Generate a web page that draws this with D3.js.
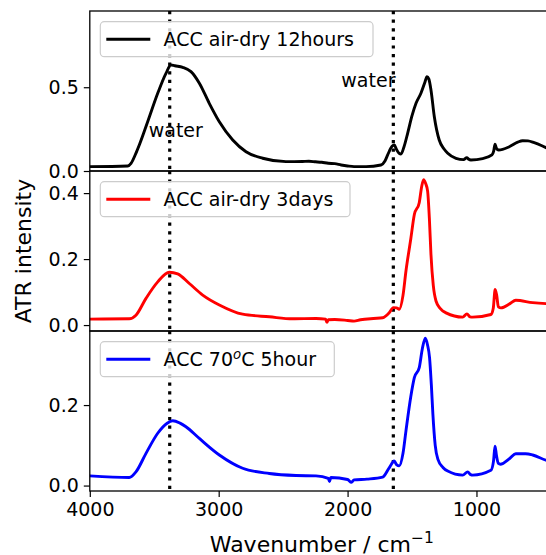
<!DOCTYPE html>
<html>
<head>
<meta charset="utf-8">
<script src="https://cdn.jsdelivr.net/npm/d3@7"></script>
<style>
  html, body { margin: 0; padding: 0; background: #fff; }
  svg { display: block; font-family: "DejaVu Sans", sans-serif; }
</style>
</head>
<body>
<svg id="chart" width="546" height="555"></svg>
<script>
// ---------- data ----------
const seriesLabels = ["ACC air-dry 12hours", "ACC air-dry 3days", "ACC 70oC 5hour"];
const seriesColors = ["#000000", "#ff0000", "#0000ff"];

const wn12h = [4000, 3706, 3680, 3640, 3616, 3551, 3473, 3409, 3370, 3340, 3279, 3215, 3150, 3073, 2995, 2891, 2788, 2659, 2478, 2350, 2300, 2250, 2200, 2150, 2100, 2050, 2000, 1950, 1857, 1741, 1710, 1689, 1655, 1638, 1620, 1600, 1586, 1560, 1534, 1500, 1469, 1431, 1400, 1384, 1370, 1353, 1327, 1289, 1250, 1223, 1159, 1100, 1075, 1060, 1043, 952, 880, 866, 856, 845, 828, 745, 680, 642, 600, 552, 461, 400];
const ab12h = [0.026, 0.030, 0.046, 0.110, 0.155, 0.294, 0.464, 0.583, 0.633, 0.628, 0.619, 0.593, 0.524, 0.404, 0.294, 0.185, 0.115, 0.076, 0.056, 0.057, 0.058, 0.055, 0.052, 0.046, 0.044, 0.036, 0.030, 0.026, 0.026, 0.036, 0.060, 0.096, 0.148, 0.155, 0.128, 0.105, 0.101, 0.150, 0.225, 0.330, 0.404, 0.464, 0.530, 0.563, 0.550, 0.484, 0.324, 0.185, 0.130, 0.106, 0.076, 0.068, 0.080, 0.070, 0.066, 0.074, 0.096, 0.120, 0.160, 0.135, 0.125, 0.145, 0.172, 0.181, 0.180, 0.169, 0.140, 0.120];

const wn3d = [4000, 3694, 3642, 3564, 3473, 3383, 3318, 3228, 3124, 2995, 2814, 2607, 2426, 2245, 2170, 2160, 2150, 2100, 2000, 1950, 1900, 1800, 1728, 1677, 1645, 1620, 1599, 1570, 1547, 1510, 1482, 1444, 1425, 1410, 1395, 1379, 1365, 1353, 1335, 1314, 1280, 1236, 1107, 1074, 1050, 1030, 888, 870, 855, 843, 830, 810, 740, 695, 564, 461, 400];
const ab3d = [0.018, 0.019, 0.030, 0.081, 0.131, 0.160, 0.155, 0.126, 0.091, 0.061, 0.033, 0.025, 0.019, 0.020, 0.018, 0.008, 0.016, 0.017, 0.014, 0.012, 0.016, 0.020, 0.022, 0.037, 0.053, 0.052, 0.048, 0.090, 0.164, 0.260, 0.335, 0.371, 0.420, 0.441, 0.430, 0.406, 0.320, 0.214, 0.120, 0.073, 0.050, 0.037, 0.024, 0.034, 0.025, 0.024, 0.032, 0.050, 0.108, 0.090, 0.055, 0.052, 0.065, 0.075, 0.068, 0.065, 0.064];

const wn70 = [4000, 3694, 3642, 3564, 3473, 3400, 3357, 3300, 3254, 3150, 2995, 2814, 2607, 2400, 2245, 2150, 2140, 2130, 2000, 1970, 1950, 1850, 1728, 1677, 1638, 1620, 1599, 1570, 1547, 1510, 1482, 1444, 1420, 1397, 1380, 1364, 1350, 1338, 1320, 1299, 1260, 1223, 1107, 1068, 1045, 1030, 888, 868, 856, 845, 830, 815, 740, 695, 620, 564, 461, 400];
const ab70 = [0.024, 0.020, 0.034, 0.080, 0.130, 0.155, 0.161, 0.155, 0.146, 0.117, 0.076, 0.043, 0.030, 0.025, 0.024, 0.018, 0.010, 0.020, 0.015, 0.008, 0.014, 0.016, 0.021, 0.044, 0.061, 0.052, 0.049, 0.080, 0.136, 0.220, 0.268, 0.293, 0.340, 0.366, 0.350, 0.318, 0.250, 0.177, 0.100, 0.065, 0.045, 0.036, 0.026, 0.034, 0.027, 0.026, 0.038, 0.060, 0.098, 0.075, 0.055, 0.053, 0.068, 0.079, 0.079, 0.076, 0.063, 0.058];

const xTicks = [4000, 3000, 2000, 1000];
const yTicks = [[0, 0.5], [0, 0.2, 0.4], [0, 0.2]];
const yDomains = [[0, 0.955], [-0.018, 0.467], [-0.0135, 0.384]];
const waterLines = [3380, 1645];
const waterLabels = [{w: 3380, v: 0.20, text: "water"}, {w: 1645, v: 0.50, text: "water"}];

const waves = [wn12h, wn3d, wn70];
const values = [ab12h, ab3d, ab70];

// ---------- layout ----------
const svg = d3.select("#chart");
const left = 89.8, right = 553.8;
const panelTops = [11, 171, 331];
const panelH = 160;
const FS = 19;

const x = d3.scaleLinear().domain([4000, 400]).range([left, right]);

const defs = svg.append("defs");

panelTops.forEach((top, i) => {
  const y = d3.scaleLinear().domain(yDomains[i]).range([top + panelH, top]);
  const g = svg.append("g");
  const cid = "clip" + i;
  defs.append("clipPath").attr("id", cid)
    .append("rect").attr("x", left).attr("y", top).attr("width", right - left).attr("height", panelH);

  const plot = g.append("g").attr("clip-path", `url(#${cid})`);

  // dotted vertical lines
  waterLines.forEach(w => {
    plot.append("line")
      .attr("x1", x(w)).attr("x2", x(w))
      .attr("y1", top).attr("y2", top + panelH)
      .attr("stroke", "#000").attr("stroke-width", 3.2)
      .attr("stroke-dasharray", "3.2,5.4");
  });

  // spectrum
  const pts = waves[i].map((w, k) => [w, values[i][k]]);
  const line = d3.line().x(d => x(d[0])).y(d => y(d[1])).curve(d3.curveMonotoneX);
  plot.append("path").datum(pts)
    .attr("d", line)
    .attr("fill", "none")
    .attr("stroke", seriesColors[i])
    .attr("stroke-width", 2.9)
    .attr("stroke-linejoin", "round")
    .attr("stroke-linecap", "round");

  // water text in the top panel
  if (i === 0) {
    waterLabels.forEach((lab, k) => {
      g.append("text")
        .attr("x", k === 0 ? x(lab.w) - 21 : x(lab.w) - 52)
        .attr("y", k === 0 ? 137.3 : 86.7)
        .attr("font-size", FS)
        .attr("fill", "#000")
        .text(lab.text);
    });
  }

  // y axis
  const yAxis = d3.axisLeft(y).tickValues(yTicks[i]).tickFormat(d3.format(".1f")).tickSize(6).tickPadding(5);
  const ya = g.append("g").attr("transform", `translate(${left},0)`).call(yAxis);
  ya.select(".domain").remove();
  ya.selectAll(".tick line").attr("stroke", "#000").attr("stroke-width", 1.2);
  ya.selectAll(".tick text").attr("font-size", FS).attr("font-family", "DejaVu Sans").attr("fill", "#000");

  // spines
  g.append("rect")
    .attr("x", left).attr("y", top).attr("width", right - left).attr("height", panelH)
    .attr("fill", "none").attr("stroke", "#000").attr("stroke-width", 1.3);

  // x axis on bottom panel
  if (i === 2) {
    const xAxis = d3.axisBottom(x).tickValues(xTicks).tickFormat(d3.format("d")).tickSize(6).tickPadding(6);
    const xa = g.append("g").attr("transform", `translate(0,${top + panelH})`).call(xAxis);
    xa.select(".domain").remove();
    xa.selectAll(".tick line").attr("stroke", "#000").attr("stroke-width", 1.2);
    xa.selectAll(".tick text").attr("font-size", FS).attr("font-family", "DejaVu Sans").attr("fill", "#000");
  }

  // legend
  const legendWidths = [272.7, 249.7, 234];
  const lx = 100.3, ly = top + 10.7, lh = 35;
  const lg = g.append("g");
  lg.append("rect")
    .attr("x", lx).attr("y", ly).attr("width", legendWidths[i]).attr("height", lh)
    .attr("rx", 4).attr("ry", 4)
    .attr("fill", "#fff").attr("fill-opacity", 0.8)
    .attr("stroke", "#cccccc").attr("stroke-width", 1.2);
  lg.append("line")
    .attr("x1", lx + 6).attr("x2", lx + 50)
    .attr("y1", ly + lh / 2).attr("y2", ly + lh / 2)
    .attr("stroke", seriesColors[i]).attr("stroke-width", 2.9);
  const lt = lg.append("text")
    .attr("x", lx + 63.3).attr("y", ly + lh / 2 + 7)
    .attr("font-size", FS).attr("fill", "#000");
  if (i === 2) {
    lt.append("tspan").text("ACC 70");
    lt.append("tspan").attr("font-size", FS * 0.7).attr("font-style", "italic").attr("dy", -7).text("o");
    lt.append("tspan").attr("dy", 7).text("C 5hour");
  } else {
    lt.text(seriesLabels[i]);
  }
});

// axis labels
const xl = svg.append("text")
  .attr("x", (left + right) / 2).attr("y", 551.5)
  .attr("text-anchor", "middle").attr("font-size", 22).attr("fill", "#000");
xl.append("tspan").text("Wavenumber / cm");
xl.append("tspan").attr("font-size", 15.5).attr("dy", -9).text("\u22121");

svg.append("text")
  .attr("transform", `translate(31,251) rotate(-90)`)
  .attr("text-anchor", "middle").attr("font-size", 22).attr("fill", "#000")
  .text("ATR intensity");
</script>
</body>
</html>
